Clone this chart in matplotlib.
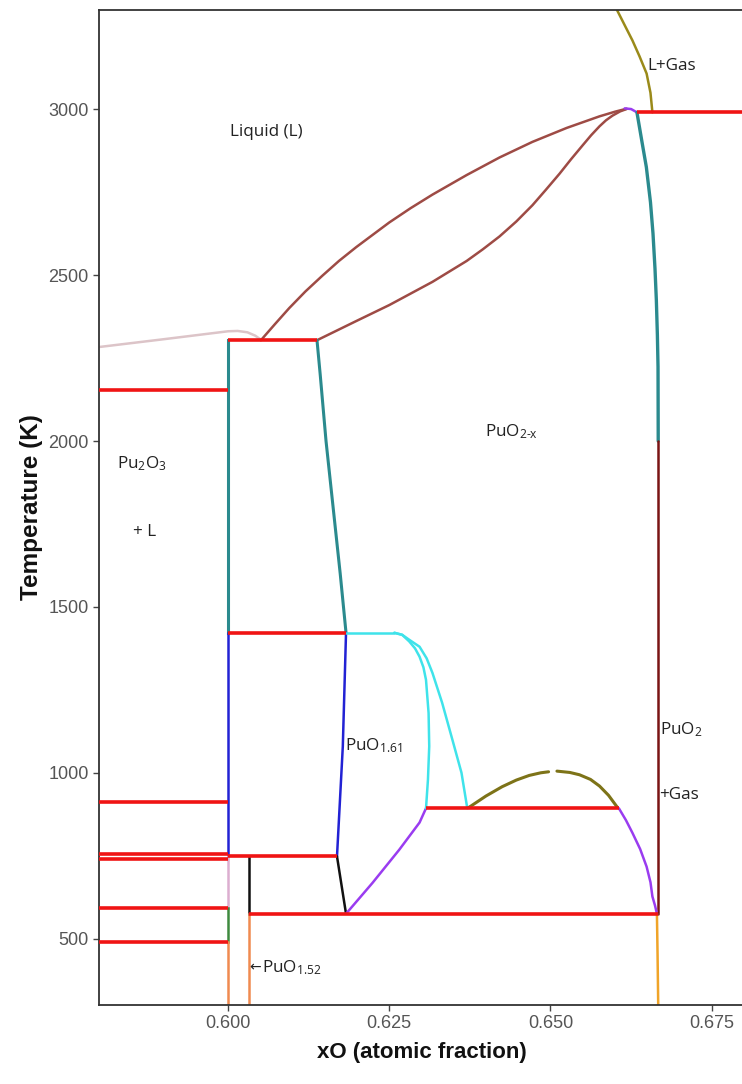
import matplotlib
matplotlib.use("Agg")
import matplotlib.pyplot as plt

plt.rcParams["mathtext.fontset"] = "custom"
plt.rcParams["mathtext.rm"] = "Open Sans"
plt.rcParams["mathtext.it"] = "Open Sans:italic"

# ---- invariant (three-phase) temperatures: (x_start, x_end, T) ----
red_x0 = [0.58, 0.600, 0.600, 0.58, 0.58, 0.58, 0.600, 0.58, 0.58, 0.6032, 0.6307, 0.6634]
red_x1 = [0.600, 0.6138, 0.6183, 0.600, 0.600, 0.600, 0.6169, 0.600, 0.600, 0.6667, 0.6606, 0.68]
red_T = [2155, 2305, 1422, 912, 755, 740, 748, 593, 490, 575, 893, 2991]

# ---- phase boundaries ----
liquidus_x = [0.6051, 0.6073, 0.6095, 0.6120, 0.6146, 0.6172, 0.6199, 0.6250, 0.6283,
              0.6317, 0.6370, 0.6421, 0.6472, 0.6525, 0.6576, 0.6600, 0.6612, 0.6618]
liquidus_T = [2304, 2353, 2401, 2451, 2498, 2543, 2585, 2659, 2702, 2743, 2802, 2855,
              2902, 2944, 2979, 2993, 2999, 3002]

solidus_x = [0.6138, 0.6199, 0.6250, 0.6317, 0.6370, 0.6395, 0.6421, 0.6447, 0.6472,
             0.6493, 0.6514, 0.6532, 0.6550, 0.6563, 0.6576, 0.6586, 0.6596, 0.6608, 0.6618]
solidus_T = [2304, 2362, 2410, 2480, 2543, 2578, 2617, 2662, 2711, 2758, 2806, 2850,
             2892, 2922, 2949, 2967, 2981, 2994, 3001]

pu2o3_liq_x = [0.5802, 0.5900, 0.6000, 0.6015, 0.6030, 0.6042, 0.6051]
pu2o3_liq_T = [2284, 2307, 2331, 2332, 2328, 2318, 2306]

congruent_x = [0.6615, 0.6625, 0.6634]
congruent_T = [3003, 3001, 2991]

gas_top_x = [0.6603, 0.6616, 0.6627, 0.6638, 0.6649, 0.6655, 0.6658]
gas_top_T = [3300, 3250, 3208, 3160, 3108, 3050, 2991]

pu2o_hi_x = [0.6634, 0.6642, 0.66486, 0.6655, 0.66589, 0.6662, 0.66641, 0.66657, 0.66667, 0.6667]
pu2o_hi_T = [2991, 2900, 2826, 2720, 2626, 2520, 2425, 2320, 2224, 2000]

pu2_line_x = [0.6667, 0.6667]
pu2_line_T = [2000, 575]

pu2_low_x = [0.6665, 0.6666, 0.6667]
pu2_low_T = [575, 450, 300]

mid_teal_x = [0.6138, 0.6143, 0.6152, 0.6163, 0.6174, 0.6183]
mid_teal_T = [2304, 2200, 2000, 1800, 1600, 1422]

mid_blue_x = [0.6183, 0.6178, 0.6169]
mid_blue_T = [1422, 1079, 748]

mid_black_x = [0.6169, 0.6183]
mid_black_T = [748, 575]

low_purple_x = [0.6183, 0.6224, 0.62655, 0.6297, 0.6307]
low_purple_T = [575, 668, 768, 850, 893]

cyan_flat_x = [0.6183, 0.6258]
cyan_flat_T = [1422, 1422]

cyan_left_x = [0.6258, 0.6270, 0.6281, 0.6290, 0.6297, 0.6303, 0.6307, 0.6311, 0.6312, 0.6310, 0.6307]
cyan_left_T = [1422, 1416, 1396, 1375, 1350, 1318, 1280, 1180, 1080, 979, 893]

cyan_right_x = [0.6258, 0.6270, 0.6281, 0.6297, 0.6308, 0.6317, 0.6332, 0.6348, 0.6362, 0.6371]
cyan_right_T = [1422, 1416, 1401, 1380, 1345, 1301, 1211, 1099, 1000, 893]

dome_left_x = [0.6373, 0.6400, 0.6425, 0.6447, 0.6467, 0.6485, 0.6497]
dome_left_T = [895, 930, 958, 978, 992, 1000, 1003]
dome_right_x = [0.6510, 0.6530, 0.6545, 0.6562, 0.6576, 0.6590, 0.6604]
dome_right_T = [1005, 1001, 994, 980, 960, 932, 895]

high_purple_x = [0.6606, 0.6617, 0.6627, 0.6639, 0.6649, 0.6655, 0.6658, 0.6662, 0.6665]
high_purple_T = [893, 857, 819, 770, 717, 670, 627, 600, 575]

# vertical boundaries of the Pu2O3 line compound (x = 0.600)
v600_T = [2305, 1422, 748, 593, 490, 300]
v600_colors = ["#2b8a8e", "#2222d4", "#dcaed0", "#3f8a3f", "#f08a50"]

# PuO1.52 line compound
v152_x = 0.6032
v152_T = [748, 575, 300]
v152_colors = ["#111111", "#f08a50"]

x_ticks = [0.600, 0.625, 0.650, 0.675]
x_tick_labels = ["0.600", "0.625", "0.650", "0.675"]
y_ticks = [500, 1000, 1500, 2000, 2500, 3000]

fig = plt.figure(figsize=(7.42, 10.84), dpi=100)
ax = fig.add_axes([0.1334, 0.0729, 0.8693, 0.918])
ax.set_xlim(0.58, 0.68)
ax.set_ylim(300, 3300)

lw = 1.8
kw = dict(solid_joinstyle="round", solid_capstyle="round")
ax.plot(pu2o3_liq_x, pu2o3_liq_T, color="#dcc4c8", lw=lw, **kw)
ax.plot(liquidus_x, liquidus_T, color="#9e4b45", lw=lw, **kw)
ax.plot(solidus_x, solidus_T, color="#9e4b45", lw=lw, **kw)
ax.plot(congruent_x, congruent_T, color="#9a3cf0", lw=lw, **kw)
ax.plot(gas_top_x, gas_top_T, color="#9a8a1a", lw=lw, **kw)
ax.plot(pu2o_hi_x, pu2o_hi_T, color="#2b8a8e", lw=2.4, **kw)
ax.plot(pu2_line_x, pu2_line_T, color="#7a1414", lw=lw, **kw)
ax.plot(pu2_low_x, pu2_low_T, color="#f0a428", lw=lw, **kw)
ax.plot(mid_teal_x, mid_teal_T, color="#2b8a8e", lw=2.2, **kw)
ax.plot(mid_blue_x, mid_blue_T, color="#2222d4", lw=lw, **kw)
ax.plot(mid_black_x, mid_black_T, color="#111111", lw=lw, **kw)
ax.plot(low_purple_x, low_purple_T, color="#9a3cf0", lw=lw, **kw)
ax.plot(cyan_flat_x, cyan_flat_T, color="#3fe3ea", lw=lw, **kw)
ax.plot(cyan_left_x, cyan_left_T, color="#3fe3ea", lw=lw, **kw)
ax.plot(cyan_right_x, cyan_right_T, color="#3fe3ea", lw=lw, **kw)
ax.plot(dome_left_x, dome_left_T, color="#7d7318", lw=2.2, **kw)
ax.plot(dome_right_x, dome_right_T, color="#7d7318", lw=2.2, **kw)
ax.plot(high_purple_x, high_purple_T, color="#9a3cf0", lw=lw, **kw)

for i, c in enumerate(v600_colors):
    ax.plot([0.600, 0.600], [v600_T[i], v600_T[i + 1]], color=c,
            lw=2.2 if i == 0 else lw)
for i, c in enumerate(v152_colors):
    ax.plot([v152_x, v152_x], [v152_T[i], v152_T[i + 1]], color=c, lw=lw)

for x0, x1, t in zip(red_x0, red_x1, red_T):
    ax.plot([x0, x1], [t, t], color="#f01414", lw=2.6, solid_capstyle="butt", zorder=3)

# region labels
lab = dict(family="Open Sans", fontsize=12.3, color="#222222")
ax.text(0.6059, 2931, "Liquid (L)", ha="center", va="center", **lab)
ax.text(0.6688, 3130, "L+Gas", ha="center", va="center", **lab)
ax.text(0.6439, 2027, r"PuO$_{\mathrm{2\text{-}x}}$", ha="center", va="center", **lab)
ax.text(0.5866, 1931, r"Pu$_{\mathrm{2}}$O$_{\mathrm{3}}$", ha="center", va="center", **lab)
ax.text(0.5870, 1726, "+ L", ha="center", va="center", **lab)
ax.text(0.6182, 1081, r"PuO$_{\mathrm{1.61}}$", ha="left", va="center", **lab)
ax.text(0.6669, 1130, r"PuO$_{\mathrm{2}}$", ha="left", va="center", **lab)
ax.text(0.6668, 934, "+Gas", ha="left", va="center", **lab)
ax.text(0.6033, 413, "←", ha="left", va="center", family="DejaVu Sans",
        fontsize=10, color="#222222")
ax.text(0.6052, 413, r"PuO$_{\mathrm{1.52}}$", ha="left", va="center", **lab)

ax.set_xticks(x_ticks)
ax.set_xticklabels(x_tick_labels)
ax.set_yticks(y_ticks)
ax.tick_params(axis="both", colors="#444444", labelsize=13, length=4, width=1,
               labelcolor="#555555")
for lbl in ax.get_xticklabels() + ax.get_yticklabels():
    lbl.set_family("Liberation Sans")

ax.set_xlabel("xO (atomic fraction)", family="Liberation Sans", fontsize=16,
              fontweight="bold", color="#111111", labelpad=7)
ax.set_ylabel("Temperature (K)", family="Liberation Sans", fontsize=17.5,
              fontweight="bold", color="#111111", labelpad=4)

for side in ("left", "bottom", "top"):
    ax.spines[side].set_color("#333333")
    ax.spines[side].set_linewidth(1.3)
ax.spines["right"].set_visible(False)

fig.savefig("out.png", dpi=100)
